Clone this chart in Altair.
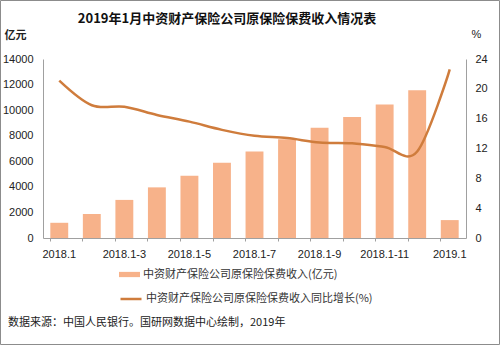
import altair as alt
import pandas as pd

categories = ["2018.1", "2018.1-2", "2018.1-3", "2018.1-4", "2018.1-5", "2018.1-6",
              "2018.1-7", "2018.1-8", "2018.1-9", "2018.1-10", "2018.1-11", "2018.1-12", "2019.1"]
premium = [1190, 1880, 2980, 3960, 4860, 5880, 6760, 7720, 8620, 9460, 10450, 11550, 1400]
growth = [21.1, 17.8, 17.6, 16.5, 15.6, 14.5, 13.7, 13.4, 12.8, 12.7, 12.2, 11.6, 22.6]
shown_labels = ["2018.1", "2018.1-3", "2018.1-5", "2018.1-7", "2018.1-9", "2018.1-11", "2019.1"]
left_ticks = [0, 2000, 4000, 6000, 8000, 10000, 12000, 14000]
right_ticks = [0, 4, 8, 12, 16, 20, 24]

bar_name = "中资财产保险公司原保险保费收入(亿元)"
line_name = "中资财产保险公司原保险保费收入同比增长(%)"
title_text = "2019年1月中资财产保险公司原保险保费收入情况表"
source_text = "数据来源：中国人民银行。国研网数据中心绘制，2019年"

FONT = "Noto Sans CJK SC"
NUM_FONT = "Liberation Sans"
BAR_COLOR = "#F7B28A"
LINE_COLOR = "#CF7C3C"
AXIS_COLOR = "#A0A0A0"

df = pd.DataFrame({"cat": categories, "premium": premium, "growth": growth,
                   "s1": bar_name, "s2": line_name})

label_list = "[" + ",".join("'" + s + "'" for s in shown_labels) + "]"

x_enc = alt.X("cat:N", sort=categories,
              scale=alt.Scale(paddingInner=0.45, paddingOuter=0.225),
              axis=alt.Axis(title=None, labelAngle=0, labelFont=NUM_FONT, labelFontSize=11,
                            labelColor="#222", labelPadding=7,
                            labelExpr="indexof(" + label_list + ", datum.value) >= 0 ? datum.label : ''",
                            domainColor=AXIS_COLOR, tickColor=AXIS_COLOR, tickSize=3,
                            bandPosition=0, labelBound=False, labelOverlap=False))

bars = alt.Chart(df).mark_bar(color=BAR_COLOR).encode(
    x=x_enc,
    y=alt.Y("premium:Q", scale=alt.Scale(domain=[0, 14000], nice=False),
            axis=alt.Axis(values=left_ticks, format="d", title="亿元", titleAngle=0,
                          titleX=-28, titleY=-24,
                          titleAlign="center", titleBaseline="middle", titleFont=FONT,
                          titleFontSize=11, titleFontWeight="bold", titleColor="#222",
                          labelFont=NUM_FONT, labelFontSize=11, labelColor="#222",
                          labelPadding=10, ticks=False, grid=False, domainColor=AXIS_COLOR)),
    fill=alt.Fill("s1:N", scale=alt.Scale(domain=[bar_name], range=[BAR_COLOR]),
                  legend=alt.Legend(title=None, orient="none", legendX=76, legendY=205,
                                    symbolType="M-1,-0.25H1V0.25H-1Z", symbolSize=441,
                                    symbolStrokeWidth=0, labelFont=FONT, labelFontSize=11,
                                    labelColor="#333", labelOffset=3, labelLimit=0)),
)

line = alt.Chart(df).mark_line(color=LINE_COLOR, strokeWidth=2.5, interpolate="cardinal", tension=0).encode(
    x=alt.X("cat:N", sort=categories),
    y=alt.Y("growth:Q", scale=alt.Scale(domain=[0, 24], nice=False),
            axis=alt.Axis(values=right_ticks, orient="right", title="%", titleAngle=0,
                          titleX=10, titleY=-25, titleAlign="center", titleBaseline="middle",
                          titleFont=NUM_FONT, titleFontSize=11, titleFontWeight="normal",
                          titleColor="#222", labelFont=NUM_FONT, labelFontSize=11,
                          labelColor="#222", labelPadding=9, ticks=False, grid=False,
                          domainColor=AXIS_COLOR)),
    stroke=alt.Stroke("s2:N", scale=alt.Scale(domain=[line_name], range=[LINE_COLOR]),
                      legend=alt.Legend(title=None, orient="none", legendX=76, legendY=228,
                                        symbolType="stroke", symbolSize=441,
                                        symbolStrokeWidth=2.5, labelFont=FONT,
                                        labelFontSize=11, labelColor="#333", labelOffset=3,
                                        labelLimit=0)),
)

one = alt.Data(values=[{"k": 1}])

title = alt.Chart(one).mark_text(font=FONT, fontSize=13, fontWeight="bold", color="#111",
                                 align="center", baseline="middle").encode(
    x=alt.value(184), y=alt.value(-40), text=alt.value(title_text))

source = alt.Chart(one).mark_text(font=FONT, fontSize=11, color="#222",
                                  align="left", baseline="middle").encode(
    x=alt.value(-35), y=alt.value(264), text=alt.value(source_text))

frame = alt.Chart(one).mark_rect(fill="transparent", stroke="#8C8C8C", strokeWidth=1).encode(
    x=alt.value(-42.5), x2=alt.value(456.5), y=alt.value(-58.5), y2=alt.value(285.5))

chart = alt.layer(bars, line, title, source, frame).resolve_scale(
    y="independent", fill="independent", stroke="independent"
).properties(
    width=423, height=179,
    autosize=alt.AutoSizeParams(type="none"),
    padding={"left": 43, "top": 59, "right": 34, "bottom": 107},
    background="white",
).configure_view(strokeWidth=0)

chart.save("out.html", embed_options={"renderer": "svg", "actions": False})
